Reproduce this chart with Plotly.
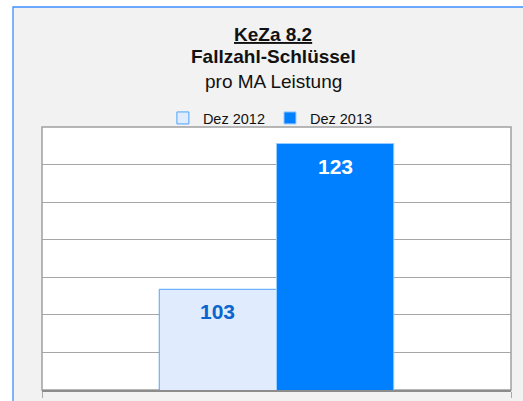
import plotly.graph_objects as go

categories = ["MA Leistung"]
series_names = ["Dez 2012", "Dez 2013"]
values_2012 = [103.4]
values_2013 = [122.8]
y_range = [90, 125]
y_step = 5
title_lines = ["<u><b>KeZa 8.2</b></u>", "<b>Fallzahl-Schlüssel</b>", "pro MA Leistung"]

W, H = 523, 401
ML, MR, MT, MB = 42, 12, 127, 11
PW = W - ML - MR
PH = H - MT - MB

def px_x(p):
    return (p - ML) / PW

def px_y(p):
    return (H - MB - p) / PH

FONT = "Liberation Sans, Arial, Helvetica, sans-serif"

fig = go.Figure()
fig.add_trace(go.Bar(
    name=series_names[0], x=categories, y=values_2012,
    marker=dict(color="#e0ebfd", line=dict(color="#4da3ff", width=1)),
))
fig.add_trace(go.Bar(
    name=series_names[1], x=categories, y=values_2013,
    marker=dict(color="#0080ff", line=dict(color="#99ccff", width=1)),
))

# value labels inside the top of each bar
bar_px = PW * 0.25
for vals, shift, col in [(values_2012, -bar_px / 2, "#0a66cc"), (values_2013, bar_px / 2, "white")]:
    for c, v in zip(categories, vals):
        fig.add_annotation(
            x=c, y=v, xref="x", yref="y", text=f"<b>{v:.0f}</b>", showarrow=False,
            xshift=shift, yshift=-9, yanchor="top",
            font=dict(family=FONT, size=21, color=col),
        )

# title lines
for txt, yp in zip(title_lines, [34.0, 56.5, 81.0]):
    fig.add_annotation(
        x=px_x(273.3), y=px_y(yp), xref="paper", yref="paper",
        text=txt, showarrow=False, xanchor="center", yanchor="middle",
        font=dict(family=FONT, size=19, color="#111"),
    )

fig.update_layout(
    width=W, height=H,
    margin=dict(l=ML, r=MR, t=MT, b=MB, autoexpand=False),
    paper_bgcolor="white",
    plot_bgcolor="rgba(0,0,0,0)",
    barmode="group", bargap=0.5, bargroupgap=0,
    font=dict(family=FONT, color="#111"),
    legend=dict(
        orientation="h", x=0.487, xanchor="center",
        y=px_y(118), yanchor="middle",
        font=dict(family=FONT, size=14.5, color="#111"),
        bgcolor="rgba(0,0,0,0)", itemwidth=30,
    ),
    showlegend=True,
    shapes=[
        dict(type="rect", xref="paper", yref="paper", layer="below",
             x0=px_x(13), x1=px_x(560), y0=px_y(430), y1=px_y(7),
             fillcolor="#f2f2f2", line=dict(color="#3d8eff", width=1.3)),
        dict(type="rect", xref="paper", yref="paper", layer="below",
             x0=0, x1=1, y0=0, y1=1,
             fillcolor="white", line=dict(color="#a0a0a0", width=1.5)),
    ],
    xaxis=dict(
        showticklabels=False, showgrid=False, zeroline=False,
        showline=True, linecolor="#8c8c8c", linewidth=2,
        ticks="outside", tickson="boundaries", ticklen=6, tickcolor="#aaaaaa",
        range=[-0.5, 0.5], automargin=False,
    ),
    yaxis=dict(
        range=y_range, dtick=y_step, showticklabels=False, ticks="",
        showgrid=True, gridcolor="#a6a6a6", gridwidth=1, zeroline=False,
        showline=False, automargin=False,
    ),
)

fig.write_html(
    "out.html",
    config={"displayModeBar": False},
    post_script="document.body.style.margin='0';document.body.style.padding='0';",
)
